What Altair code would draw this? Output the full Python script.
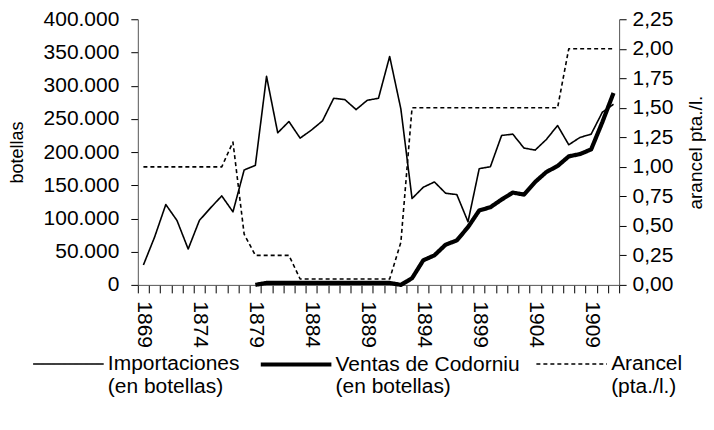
import altair as alt
import pandas as pd

# ---------------- data ----------------
years = list(range(1869, 1912))

importaciones = [30000, 72000, 121000, 97000, 54000, 97000, 116000, 134000, 110000, 173000,
                 180000, 314000, 229000, 246000, 221000, 233000, 247000, 281000, 279000, 264000,
                 278000, 281000, 344000, 265000, 130000, 147000, 155000, 138000, 136000, 95000,
                 175000, 178000, 225000, 227000, 206000, 203000, 219000, 240000, 211000, 222000,
                 227000, 260000, 272000]

ventas_years = list(range(1879, 1912))
ventas = [0, 3000, 3000, 3000, 3000, 3000, 3000, 3000, 3000, 3000,
          3000, 3000, 3000, 0, 10000, 37000, 44500, 60500, 67000, 87000,
          112000, 117000, 128500, 139000, 136000, 155000, 170000, 179000, 193500, 197000,
          204000, 245000, 289000]

arancel = [1.0, 1.0, 1.0, 1.0, 1.0, 1.0, 1.0, 1.0, 1.21, 0.43,
           0.25, 0.25, 0.25, 0.25, 0.05, 0.05, 0.05, 0.05, 0.05, 0.05,
           0.05, 0.05, 0.05, 0.36, 1.5, 1.5, 1.5, 1.5, 1.5, 1.5,
           1.5, 1.5, 1.5, 1.5, 1.5, 1.5, 1.5, 1.5, 2.0, 2.0,
           2.0, 2.0, 2.0]

series = ["Importaciones\n(en botellas)",
          "Ventas de Codorniu\n\u2002\u2002\u2002\u2002(en botellas)",
          "Arancel\n(pta./l.)"]

label_years = [1869, 1874, 1879, 1884, 1889, 1894, 1899, 1904, 1909]
left_ticks = [0, 50000, 100000, 150000, 200000, 250000, 300000, 350000, 400000]
right_ticks = [0, 0.25, 0.5, 0.75, 1.0, 1.25, 1.5, 1.75, 2.0, 2.25]

# ---------------- tables ----------------
df_b = pd.concat([
    pd.DataFrame({"year": years, "value": importaciones, "serie": series[0]}),
    pd.DataFrame({"year": ventas_years, "value": ventas, "serie": series[1]}),
])
df_a = pd.DataFrame({"year": years, "value": arancel, "serie": series[2]})

FONT = "Liberation Sans"
band_edges = [1868.5 + i for i in range(len(years) + 1)]

x_enc = alt.X(
    "year:Q",
    scale=alt.Scale(domain=[1868.5, 1911.5], nice=False, zero=False),
    axis=alt.Axis(
        values=band_edges + label_years,
        labelExpr="datum.value % 1 == 0 ? format(datum.value, 'd') : ''",
        labelAngle=90, labelAlign="left", labelBaseline="middle",
        labelOverlap=False, labelFlush=False, labelPadding=8,
        tickSize=8, tickColor="black",
        tickOpacity={"condition": {"test": "datum.value % 1 == 0", "value": 0}, "value": 1},
        domainColor="#555", grid=False, title=None,
    ),
)

legend = alt.Legend(
    title=None, orient="none", legendX=-107, legendY=308,
    direction="horizontal", columns=3, columnPadding=12,
    symbolType="stroke", symbolSize=5000, labelOffset=2,
    labelFontSize=21, labelFont=FONT, labelColor="black", labelLimit=400,
    labelExpr="split(datum.label, '\\n')",
)

color_enc = alt.Color("serie:N", scale=alt.Scale(domain=series, range=["black", "black", "black"]), legend=legend)
dash_enc = alt.StrokeDash("serie:N", scale=alt.Scale(domain=series, range=[[1, 0], [1, 0], [4, 3]]), legend=legend)
width_enc = alt.StrokeWidth("serie:N", scale=alt.Scale(type="ordinal", domain=series, range=[1.6, 4.2, 1.6]), legend=legend)

left = alt.Chart(df_b).mark_line(strokeJoin="round").encode(
    x=x_enc,
    y=alt.Y("value:Q",
            scale=alt.Scale(domain=[0, 400000], nice=False),
            axis=alt.Axis(values=left_ticks,
                          labelExpr="replace(format(datum.value, ','), ',', '.')",
                          title="botellas", titleFontSize=18, titleFontWeight="normal",
                          titleFont=FONT, titleColor="black", titlePadding=17,
                          tickSize=7, tickColor="black", labelPadding=12,
                          domainColor="#555", grid=False)),
    color=color_enc, strokeDash=dash_enc, strokeWidth=width_enc,
)

right = alt.Chart(df_a).mark_line(strokeJoin="round").encode(
    x=x_enc,
    y=alt.Y("value:Q",
            scale=alt.Scale(domain=[0, 2.25], nice=False),
            axis=alt.Axis(orient="right", values=right_ticks,
                          labelExpr="replace(format(datum.value, '.2f'), '.', ',')",
                          title="arancel pta./l.", titleFontSize=19, titleFontWeight="normal",
                          titleFont=FONT, titleColor="black", titleAngle=270,
                          titleBaseline="top", titlePadding=14,
                          tickSize=7, tickColor="black", labelPadding=6,
                          domainColor="#555", grid=False)),
    color=color_enc, strokeDash=dash_enc, strokeWidth=width_enc,
)

chart = alt.layer(left, right).resolve_scale(y="independent").properties(
    width=482, height=266,
    padding={"left": 0, "top": 0, "right": 0, "bottom": 0},
).configure_axis(
    labelFont=FONT, labelFontSize=21, labelColor="black",
).configure_view(stroke=None)

chart.save("out.html", embed_options={"renderer": "svg", "actions": False})
